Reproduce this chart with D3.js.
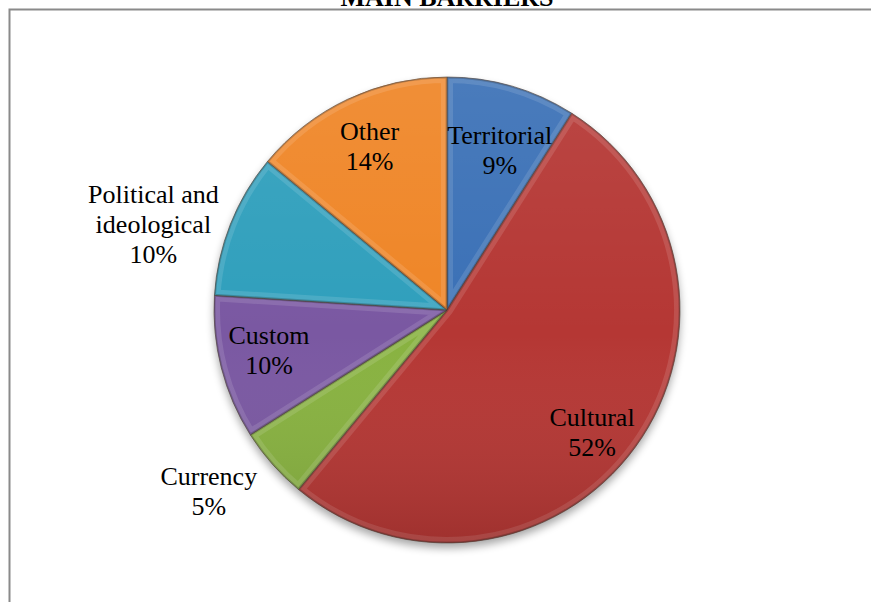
<!DOCTYPE html>
<html>
<head>
<meta charset="utf-8">
<script src="https://cdn.jsdelivr.net/npm/d3@7"></script>
<style>
  body { margin: 0; background: #fff; }
  svg { display: block; }
</style>
</head>
<body>
<div id="chart"></div>
<script>
const title = "MAIN BARRIERS";
const categories = ["Territorial", "Cultural", "Currency", "Custom", "Political and ideological", "Other"];
const values = [9, 52, 5, 10, 10, 14];
const labelLines = [
  ["Territorial"], ["Cultural"], ["Currency"], ["Custom"], ["Political and", "ideological"], ["Other"]
];
const colors = ["#3a70b6", "#b53734", "#88b240", "#7a58a2", "#2f9fbc", "#ef8526"];

const width = 871, height = 602;
const cx = 447, cy = 310, r = 233;

const svg = d3.select("#chart").append("svg")
  .attr("width", width).attr("height", height);

const defs = svg.append("defs");

// soft shadow under the pie
defs.append("filter").attr("id", "shadow")
  .attr("x", "-20%").attr("y", "-20%").attr("width", "140%").attr("height", "140%")
  .append("feGaussianBlur").attr("stdDeviation", 4);

// shading over the whole pie
const shade = defs.append("linearGradient").attr("id", "shade")
  .attr("x1", 0).attr("y1", 0).attr("x2", 0).attr("y2", 1);
shade.append("stop").attr("offset", "0%").attr("stop-color", "#fff").attr("stop-opacity", 0.08);
shade.append("stop").attr("offset", "55%").attr("stop-color", "#fff").attr("stop-opacity", 0);
shade.append("stop").attr("offset", "100%").attr("stop-color", "#000").attr("stop-opacity", 0.12);

// frame
svg.append("path")
  .attr("d", `M9.5,${height} V9.5 H${width}`)
  .attr("fill", "none").attr("stroke", "#8a8a8a").attr("stroke-width", 2);

// title (cut off at top like the source)
svg.append("text")
  .attr("x", cx).attr("y", 6)
  .attr("text-anchor", "middle")
  .style("font-family", "'Liberation Serif', 'Times New Roman', serif")
  .style("font-weight", "bold").style("font-size", "26px")
  .text(title);

const pie = d3.pie().sort(null).value(d => d);
const arcs = pie(values);
const arc = d3.arc().innerRadius(0).outerRadius(r);

const g = svg.append("g").attr("transform", `translate(${cx},${cy})`);

g.append("circle")
  .attr("cx", 0).attr("cy", 5).attr("r", r)
  .attr("fill", "#000").attr("opacity", 0.35)
  .attr("filter", "url(#shadow)");

arcs.forEach((a, i) => {
  defs.append("clipPath").attr("id", "clip" + i)
    .append("path").attr("d", arc(a));
});

const slices = g.selectAll("g.slice").data(arcs).join("g").attr("class", "slice");

slices.append("path")
  .attr("d", arc)
  .attr("fill", (d, i) => colors[i]);

// bevel: light inner band, darker thin edge
slices.append("path")
  .attr("d", arc)
  .attr("fill", "none")
  .attr("clip-path", (d, i) => `url(#clip${i})`)
  .attr("stroke", "#fff").attr("stroke-opacity", 0.12).attr("stroke-width", 12);

slices.append("path")
  .attr("d", arc)
  .attr("fill", "none")
  .attr("clip-path", (d, i) => `url(#clip${i})`)
  .attr("stroke", "#000").attr("stroke-opacity", 0.2).attr("stroke-width", 3);

g.append("circle").attr("r", r).attr("fill", "url(#shade)");

slices.append("path")
  .attr("d", arc)
  .attr("fill", "none")
  .attr("stroke", "#4a3a30").attr("stroke-opacity", 0.6).attr("stroke-width", 1);

// labels: inside slices, except small ones placed outside
const outside = [false, false, true, false, true, false];
const inArc = d3.arc().innerRadius(r * 0.78).outerRadius(r * 0.78);
const outArc = d3.arc().innerRadius(r * 1.3).outerRadius(r * 1.3);
const nudge = [[2, 15], [-2, 15], [-11, -19], [-2, -5], [-12, 26], [0, 0]];
const lineH = 30;

const labels = g.selectAll("text.lbl").data(arcs).join("text")
  .attr("class", "lbl")
  .attr("text-anchor", "middle")
  .style("font-family", "'Liberation Serif', 'Times New Roman', serif")
  .style("font-size", "26px")
  .attr("fill", "#000")
  .attr("transform", (d, i) => {
    const [x, y] = (outside[i] ? outArc : inArc).centroid(d);
    return `translate(${x + nudge[i][0]},${y + nudge[i][1]})`;
  });

labels.each(function(d, i) {
  const lines = labelLines[i].concat([d3.format(".0f")(d.data) + "%"]);
  const t = d3.select(this);
  const y0 = -((lines.length - 1) * lineH) / 2 + 9;
  lines.forEach((ln, k) => {
    t.append("tspan").attr("x", 0).attr("y", y0 + k * lineH).text(ln);
  });
});
</script>
</body>
</html>
